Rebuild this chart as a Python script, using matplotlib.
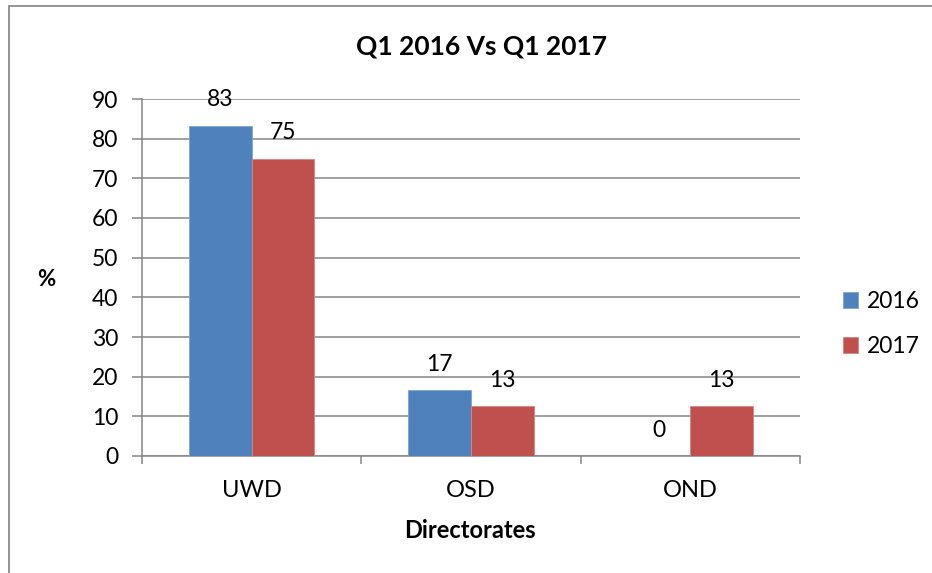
import numpy as np
import matplotlib
matplotlib.use("Agg")
import matplotlib.pyplot as plt
from matplotlib.patches import Rectangle

# data
categories = ["UWD", "OSD", "OND"]
series_names = ["2016", "2017"]
values_2016 = [83.3, 16.7, 0.0]
values_2017 = [75.0, 12.5, 12.5]
labels_2016 = ["83", "17", "0"]
labels_2017 = ["75", "13", "13"]

blue = "#4F81BD"
red = "#C0504D"
grey = "#868686"

plt.rcParams["font.family"] = ["Lato", "DejaVu Sans"]

fig = plt.figure(figsize=(9.32, 5.73), dpi=100)
ax = fig.add_axes([142 / 932, 1 - 456 / 573, 658 / 932, 357 / 573])

# outer chart border (runs off right/bottom edge like the screenshot)
fig.patches.append(Rectangle((9 / 932, -0.05), 1.0, 1 - 6 / 573 + 0.05,
                             transform=fig.transFigure, fill=False,
                             edgecolor="#8C8C8C", linewidth=1.3))

x = np.arange(len(categories))
w = 1 / 3.5
bars1 = ax.bar(x - w / 2, values_2016, w, color=blue, label=series_names[0],
               edgecolor="#7FA3D3", linewidth=0.6, zorder=3)
bars2 = ax.bar(x + w / 2, values_2017, w, color=red, label=series_names[1],
               edgecolor="#D98583", linewidth=0.6, zorder=3)

for bars, labs in [(bars1, labels_2016), (bars2, labels_2017)]:
    for b, lab in zip(bars, labs):
        ax.annotate(lab, (b.get_x() + b.get_width() / 2, b.get_height()),
                    xytext=(0, 18.5), textcoords="offset points",
                    ha="center", va="center", fontsize=16.5)

ax.set_xlim(-0.5, len(categories) - 0.5)
ax.set_ylim(0, 90)
ax.set_yticks(np.arange(0, 91, 10))
ax.yaxis.grid(True, color=grey, linewidth=1.1, zorder=0)
ax.set_axisbelow(True)

ax.set_xticks(x)
ax.set_xticklabels(categories)
ax.set_xticks(np.arange(-0.5, len(categories), 1), minor=True)
ax.tick_params(axis="x", which="major", length=0, pad=17, labelsize=17)
ax.tick_params(axis="x", which="minor", length=6, color=grey, width=1.1)
ax.tick_params(axis="y", length=7, color=grey, width=1.1, pad=10, labelsize=16.5)

for s in ["top", "right"]:
    ax.spines[s].set_visible(False)
for s in ["left", "bottom"]:
    ax.spines[s].set_color(grey)
    ax.spines[s].set_linewidth(1.1)

fig.text(482 / 932, 1 - 47 / 573, "Q1 2016 Vs Q1 2017", ha="center",
         va="center", fontsize=19, fontweight="bold")
fig.text(46 / 932, 1 - 280 / 573, "%", ha="center", va="center",
         fontsize=16, fontweight="bold")
fig.text(470 / 932, 1 - 531 / 573, "Directorates", ha="center", va="center",
         fontsize=17, fontweight="bold")

ax.legend(loc="center left", bbox_to_anchor=(843 / 932, 1 - 324 / 573),
          bbox_transform=fig.transFigure, frameon=False, fontsize=16.5,
          handlelength=0.65, handleheight=0.65, handletextpad=0.4,
          labelspacing=1.05, borderpad=0, borderaxespad=0)

fig.savefig("out.png", dpi=100)
